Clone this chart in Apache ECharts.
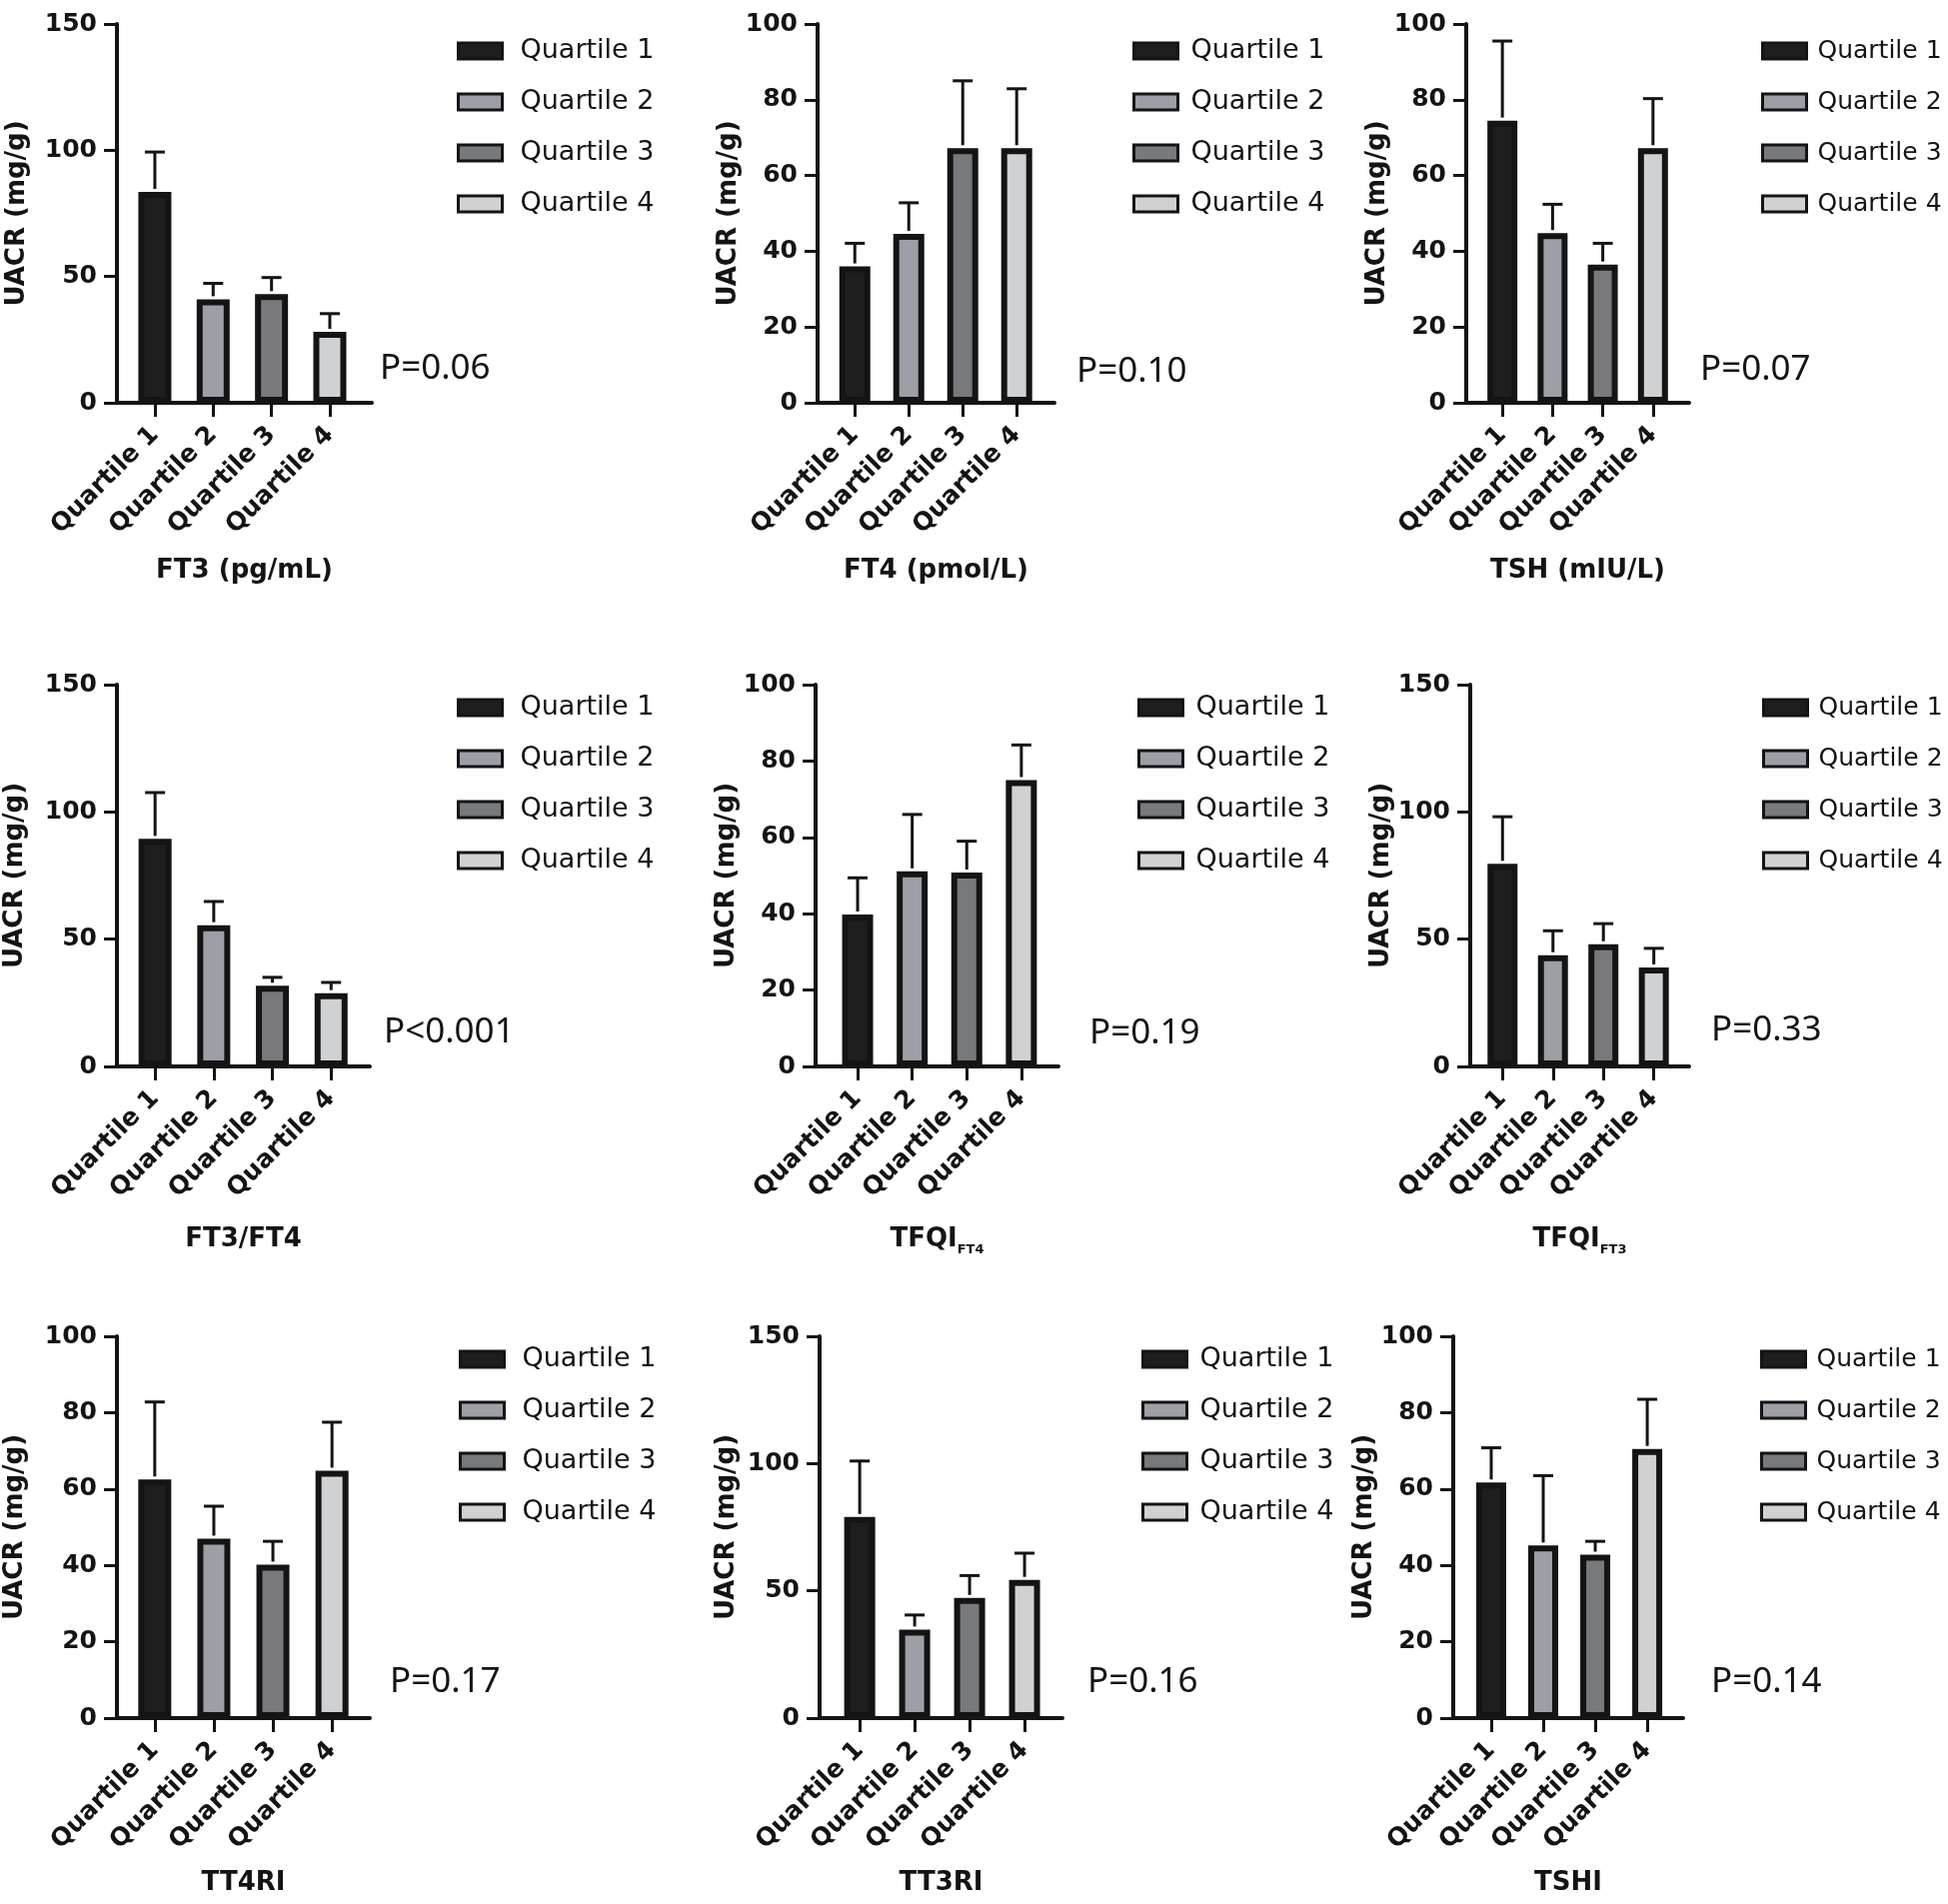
<!DOCTYPE html>
<html><head><meta charset="utf-8">
<script src="https://cdn.jsdelivr.net/npm/echarts@6/dist/echarts.min.js"></script>
<style>html,body{margin:0;padding:0;background:#fff}#c{width:1949px;height:1905px}</style>
</head><body><div id="c"></div>
<script>
// ---------- data ----------
const quartiles = ['Quartile 1', 'Quartile 2', 'Quartile 3', 'Quartile 4'];
const xTitles = ['FT3 (pg/mL)', 'FT4 (pmol/L)', 'TSH (mIU/L)', 'FT3/FT4', '{m|TFQI}{s|FT4}', '{m|TFQI}{s|FT3}', 'TT4RI', 'TT3RI', 'TSHI'];
const pLabels = ['P=0.06', 'P=0.10', 'P=0.07', 'P<0.001', 'P=0.19', 'P=0.33', 'P=0.17', 'P=0.16', 'P=0.14'];
const yMaxes = [150, 100, 100, 150, 100, 150, 100, 150, 100];
const yIntervals = [50, 20, 20, 50, 20, 50, 20, 50, 20];

const ft3Mean = [83.5, 41, 43, 28.1];      const ft3Upper = [99.3, 47.3, 49.6, 35.3];
const ft4Mean = [36, 44.6, 67.2, 67.2];    const ft4Upper = [42.1, 52.8, 85, 82.9];
const tshMean = [74.5, 44.8, 36.5, 67.2];  const tshUpper = [95.5, 52.4, 42.1, 80.3];
const ratioMean = [89.4, 55.5, 31.7, 28.8]; const ratioUpper = [107.6, 64.8, 35, 33];
const tfqiFt4Mean = [39.8, 51.1, 50.8, 75]; const tfqiFt4Upper = [49.4, 66, 59, 84.2];
const tfqiFt3Mean = [79.6, 43.7, 48, 38.9]; const tfqiFt3Upper = [98.1, 53.3, 56.1, 46.4];
const tt4riMean = [62.5, 47, 40.2, 64.8];   const tt4riUpper = [82.8, 55.5, 46.3, 77.5];
const tt3riMean = [79, 34.8, 47.2, 54.3];   const tt3riUpper = [101, 40.5, 56, 64.8];
const tshiMean = [61.7, 45.2, 42.8, 70.5];  const tshiUpper = [70.8, 63.5, 46.3, 83.5];

const means = [ft3Mean, ft4Mean, tshMean, ratioMean, tfqiFt4Mean, tfqiFt3Mean, tt4riMean, tt3riMean, tshiMean];
const uppers = [ft3Upper, ft4Upper, tshUpper, ratioUpper, tfqiFt4Upper, tfqiFt3Upper, tt4riUpper, tt3riUpper, tshiUpper];

// ---------- layout / style ----------
const fills = ['#1e1e1e', '#9c9fa6', '#77797d', '#d0d1d3'];
const ink = '#141414';
const rows = [{top: 24, h: 379, legTop: 36, xGap: 155}, {top: 685, h: 382, legTop: 693, xGap: 160}, {top: 1337, h: 382, legTop: 1345, xGap: 152}];
const legendCols = [{pad: 13, fs: 27}, {pad: 8, fs: 27}, {pad: 6, fs: 25}];
const cols = [
  [{left:117,w:255,xmin:-0.65,xmax:3.72,bw:33,yg:87,leg:457,px:380,py:369},
   {left:818,w:237,xmin:-0.69,xmax:3.70,bw:31,yg:76,leg:1133,px:1077,py:372},
   {left:1467,w:223,xmin:-0.72,xmax:3.72,bw:30,yg:66,leg:1762,px:1701,py:370}],
  [{left:117,w:253,xmin:-0.65,xmax:3.66,bw:33,yg:89,leg:457,px:384,py:1033},
   {left:816,w:243,xmin:-0.77,xmax:3.68,bw:31,yg:76,leg:1138,px:1090,py:1034},
   {left:1471,w:219,xmin:-0.64,xmax:3.70,bw:30,yg:68,leg:1763,px:1712,py:1031}],
  [{left:117,w:253,xmin:-0.64,xmax:3.64,bw:33,yg:89,leg:459,px:390,py:1683},
   {left:820,w:243,xmin:-0.73,xmax:3.69,bw:31,yg:80,leg:1142,px:1088,py:1683},
   {left:1454,w:230,xmin:-0.73,xmax:3.69,bw:30,yg:71,leg:1761,px:1712,py:1683}]
];
const boldFont = 'DejaVu Sans';

const grid = [], xAxis = [], yAxis = [], series = [], legend = [], graphic = [];
for (let p = 0; p < 9; p++) {
  const r = Math.floor(p / 3), c = p % 3;
  const L = cols[r][c], R = rows[r], LC = legendCols[c];
  grid.push({left: L.left, top: R.top, width: L.w, height: R.h, containLabel: false});
  xAxis.push({
    type: 'value', gridIndex: p, min: L.xmin, max: L.xmax,
    axisLine: {show: true, onZero: false, lineStyle: {color: ink, width: 4}},
    axisTick: {show: true, customValues: [0, 1, 2, 3], length: 14, lineStyle: {color: ink, width: 3}},
    axisLabel: {show: true, customValues: [0, 1, 2, 3], formatter: v => quartiles[Math.round(v)],
      rotate: 45, margin: 28, fontFamily: boldFont, fontWeight: 'bold', fontSize: 25, color: ink},
    splitLine: {show: false},
    name: xTitles[p], nameLocation: 'middle', nameGap: R.xGap,
    nameTextStyle: {fontFamily: boldFont, fontWeight: 'bold', fontSize: 26, color: ink,
      rich: {m: {fontFamily: boldFont, fontWeight: 'bold', fontSize: 26, color: ink},
             s: {fontFamily: boldFont, fontWeight: 'bold', fontSize: 13, color: ink, verticalAlign: 'bottom', padding: [0, 0, -4, 0]}}}
  });
  yAxis.push({
    type: 'value', gridIndex: p, min: 0, max: yMaxes[p], interval: yIntervals[p],
    axisLine: {show: true, onZero: false, lineStyle: {color: ink, width: 4}},
    axisTick: {show: true, length: 13, lineStyle: {color: ink, width: 3}},
    axisLabel: {margin: 20, fontFamily: boldFont, fontWeight: 'bold', fontSize: 25, color: ink},
    splitLine: {show: false},
    name: 'UACR (mg/g)', nameLocation: 'middle', nameGap: L.yg,
    nameTextStyle: {fontFamily: boldFont, fontWeight: 'bold', fontSize: 26, color: ink}
  });
  for (let q = 0; q < 4; q++) {
    series.push({
      type: 'bar', name: quartiles[q], xAxisIndex: p, yAxisIndex: p,
      data: [[q, means[p][q]]], barWidth: L.bw, barGap: '-100%',
      itemStyle: {color: fills[q], borderColor: ink, borderWidth: 6},
      silent: true, z: 2
    });
  }
  series.push({
    type: 'custom', xAxisIndex: p, yAxisIndex: p, z: 3, silent: true,
    data: means[p].map((m, q) => [q, m, uppers[p][q]]),
    encode: {x: 0, y: [1, 2]},
    renderItem: (params, api) => {
      const x = api.value(0), a = api.coord([x, api.value(1)]), b = api.coord([x, api.value(2)]);
      const st = {stroke: ink, lineWidth: 3};
      return {type: 'group', children: [
        {type: 'line', shape: {x1: a[0], y1: a[1] - 3, x2: b[0], y2: b[1]}, style: st},
        {type: 'line', shape: {x1: b[0] - 10, y1: b[1], x2: b[0] + 10, y2: b[1]}, style: st}
      ]};
    }
  });
  legend.push({
    orient: 'vertical', left: L.leg, top: R.legTop, padding: 0, icon: 'rect',
    itemWidth: 44, itemHeight: 16, itemGap: 21, selectedMode: false,
    data: quartiles,
    itemStyle: {borderColor: ink, borderWidth: 3},
    textStyle: {fontFamily: 'DejaVu Sans', fontSize: LC.fs, color: ink, lineHeight: 30, padding: [0, 0, 0, LC.pad]}
  });
  graphic.push({
    type: 'text', x: L.px, y: L.py, silent: true,
    style: {text: pLabels[p], fontFamily: 'Noto Sans', fontSize: 35, fill: ink, verticalAlign: 'middle', align: 'left'}
  });
}

const chart = echarts.init(document.getElementById('c'), null, {renderer: 'canvas'});
chart.setOption({animation: false, backgroundColor: '#fff', grid, xAxis, yAxis, series, legend, graphic});
</script></body></html>
